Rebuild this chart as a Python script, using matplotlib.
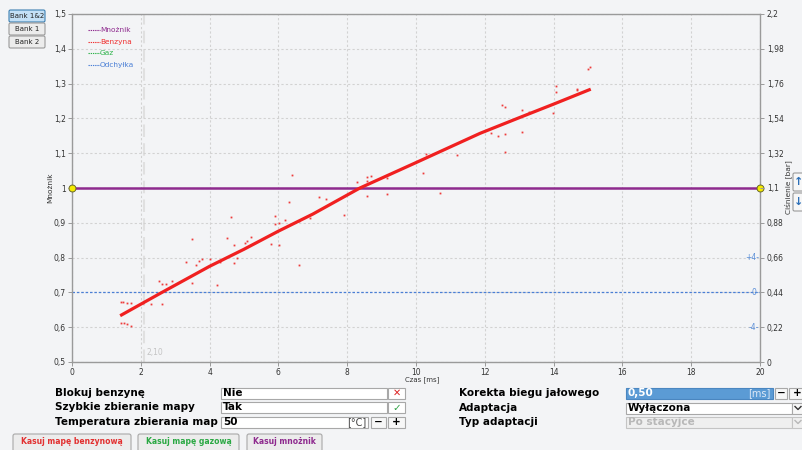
import matplotlib
matplotlib.use('Agg')
import matplotlib.pyplot as plt
from matplotlib.patches import Rectangle, FancyBboxPatch

# linia mapy benzyny (mnoznik w funkcji czasu wtrysku)
linia_x = [1.4, 2.56, 4.0, 5.0, 6.0, 7.0, 8.37, 10.0, 11.86, 13.0, 14.0, 15.08]
linia_y = [0.633, 0.697, 0.775, 0.824, 0.876, 0.925, 1.0, 1.073, 1.157, 1.202, 1.241, 1.284]

# zebrane punkty pomiarowe
punkty_x = [1.42, 1.49, 1.61, 1.71, 1.42, 1.51, 1.61, 1.71, 2.07, 2.29, 2.53, 2.63,
            2.72, 2.61, 2.92, 3.31, 3.50, 3.50, 3.60, 3.69, 3.79, 4.01, 4.21, 4.30,
            4.50, 4.61, 4.71, 4.71, 4.81, 5.02, 5.10, 5.19, 5.79, 6.01, 5.89, 6.01,
            5.91, 6.18, 6.59, 6.92, 6.40, 6.30, 6.59, 7.19, 7.38, 7.91, 8.29, 8.58,
            8.68, 8.58, 9.17, 8.58, 9.17, 10.19, 10.29, 10.70, 11.18, 12.17, 12.38,
            12.58, 12.58, 12.49, 12.59, 13.07, 13.07, 13.28, 13.99, 14.07, 14.07,
            14.67, 14.67, 14.99, 15.07]
punkty_y = [0.673, 0.673, 0.670, 0.670, 0.611, 0.611, 0.608, 0.604, 0.669, 0.666, 0.733,
            0.723, 0.723, 0.667, 0.733, 0.788, 0.854, 0.728, 0.779, 0.791, 0.795, 0.795,
            0.720, 0.787, 0.857, 0.917, 0.836, 0.784, 0.798, 0.843, 0.849, 0.858, 0.839,
            0.837, 0.897, 0.900, 0.920, 0.908, 0.906, 0.914, 1.038, 0.960, 0.779, 0.975,
            0.968, 0.923, 1.017, 1.032, 1.034, 1.021, 1.028, 0.978, 0.982, 1.042, 1.098,
            0.985, 1.094, 1.157, 1.149, 1.154, 1.104, 1.239, 1.234, 1.224, 1.162, 1.218,
            1.215, 1.292, 1.277, 1.285, 1.282, 1.342, 1.349]

mnoznik = 1.0
odchylka = 0.7
znacznik_x = 2.1
x_ticks = [0, 2, 4, 6, 8, 10, 12, 14, 16, 18, 20]
y_ticks = [0.5, 0.6, 0.7, 0.8, 0.9, 1.0, 1.1, 1.2, 1.3, 1.4, 1.5]
p_ticks = [0, 0.22, 0.44, 0.66, 0.88, 1.1, 1.32, 1.54, 1.76, 1.98, 2.2]
odchylka_opisy = ['+4', '0', '-4']
odchylka_poziomy = [0.8, 0.7, 0.6]

legenda = ['Mnożnik', 'Benzyna', 'Gaz', 'Odchyłka']
kolory = ['#8e2a8e', '#f03030', '#2db34a', '#4a7fd6']

bg = '#f3f4f6'
ciemny = '#333333'


def przecinek(v):
    return ('%g' % v).replace('.', ',')


fig = plt.figure(figsize=(8.03, 4.5), dpi=100, facecolor=bg)
ax = fig.add_axes([72 / 803, 1 - 362 / 450, 688 / 803, 348 / 450])
ax.set_facecolor(bg)
ax.set_xlim(0, 20)
ax.set_ylim(0.5, 1.5)
ax.set_xticks(x_ticks)
ax.set_xticklabels([str(t) for t in x_ticks])
ax.set_yticks(y_ticks)
ax.set_yticklabels([przecinek(t) for t in y_ticks])
ax.grid(True, ls=(0, (2, 2)), color='#d2d2d2', lw=0.8)
for s in ax.spines.values():
    s.set_color('#9a9a9a')
    s.set_linewidth(1)
ax.tick_params(labelsize=5.5, labelcolor=ciemny, color='#9a9a9a', length=3, width=0.7, pad=1.5)

ax2 = ax.twinx()
ax2.set_ylim(0, 2.2)
ax2.set_yticks(p_ticks)
ax2.set_yticklabels([przecinek(t) for t in p_ticks])
ax2.tick_params(labelsize=5.5, labelcolor=ciemny, color='#9a9a9a', length=3, width=0.7, pad=2)
for s in ax2.spines.values():
    s.set_visible(False)

# znacznik biegu jalowego
ax.axvline(znacznik_x, color='#e0e0e0', lw=1.5, ls=(0, (6, 3)), zorder=1)
ax.text(znacznik_x + 0.08, 0.515, przecinek(znacznik_x) + '0', fontsize=5.5, color='#c4c4c4',
        ha='left', va='bottom')

ax.axhline(odchylka, color=kolory[3], lw=0.9, ls=(0, (2, 1.5)), zorder=2)
for opis, poz in zip(odchylka_opisy, odchylka_poziomy):
    ax.text(19.97, poz, opis + '-', fontsize=5.5, color='#5b8fd8', ha='right', va='center')

ax.plot([0, 20], [mnoznik, mnoznik], color=kolory[0], lw=1.8, zorder=3)
ax.plot([0, 20], [mnoznik, mnoznik], ls='none', marker='o', ms=5, mfc='#f5ea00',
        mec='#6a6a2a', mew=0.7, clip_on=False, zorder=6)

ax.plot(punkty_x, punkty_y, ls='none', marker='s', ms=1.3, color='#ee3b3b', mew=0, zorder=4)
ax.plot(linia_x, linia_y, color='#f02020', lw=2.3, solid_capstyle='butt', zorder=5)

# warstwa interfejsu w pikselach
ui = fig.add_axes([0, 0, 1, 1], zorder=5)
ui.set_xlim(0, 803)
ui.set_ylim(450, 0)
ui.axis('off')
ui.patch.set_alpha(0)


def pole(x0, y0, x1, y1, fc='white', ec='#a8a8a8', lw=0.8, r=0.0):
    if r:
        p = FancyBboxPatch((x0, y0), x1 - x0, y1 - y0, boxstyle='round,pad=0,rounding_size=%g' % r,
                           fc=fc, ec=ec, lw=lw)
    else:
        p = Rectangle((x0, y0), x1 - x0, y1 - y0, fc=fc, ec=ec, lw=lw)
    ui.add_patch(p)


def napis(x, y, s, size=7.5, color='black', weight='bold', ha='left', **kw):
    ui.text(x, y, s, fontsize=size, color=color, fontweight=weight, ha=ha, va='center', **kw)


# przyciski bankow
banki = ['Bank 1&2', 'Bank 1', 'Bank 2']
for i, b in enumerate(banki):
    y0 = 10 + i * 13
    if i == 0:
        pole(9, y0, 45, y0 + 12, fc='#c4e0f6', ec='#3c7fb1', r=1.5)
    else:
        pole(9, y0, 45, y0 + 12, fc='#ececec', ec='#9a9a9a', r=1.5)
    napis(27, y0 + 6, b, size=5, color='#222222', weight='normal', ha='center')

# legenda
for i, (t, c) in enumerate(zip(legenda, kolory)):
    y = 30 + i * 11.7
    ui.plot([88, 100], [y, y], color=c, lw=0.8, ls=(0, (1.2, 0.8)))
    napis(100, y, t, size=5.3, color=c, weight='normal')

napis(50, 188, 'Mnożnik', size=5.3, color=ciemny, weight='normal', ha='center', rotation=90)
napis(788, 187, 'Ciśnienie [bar]', size=5.3, color=ciemny, weight='normal', ha='center',
      rotation=90)
napis(422, 380, 'Czas [ms]', size=5, color=ciemny, weight='normal', ha='center')

# strzalki przesuwania
pole(793, 173, 806, 191, fc='#f7f7f7', ec='#9a9a9a', r=1.5)
pole(793, 193, 806, 211, fc='#f7f7f7', ec='#9a9a9a', r=1.5)
napis(799, 182, '↑', size=8, color='#2c6fb8', ha='center')
napis(799, 202, '↓', size=8, color='#2c6fb8', ha='center')

# formularz - lewa kolumna
napis(55, 393, 'Blokuj benzynę')
napis(55, 407.5, 'Szybkie zbieranie mapy')
napis(55, 422, 'Temperatura zbierania map')

pole(221, 387.5, 387, 398.5)
napis(223, 393, 'Nie')
pole(388, 387.5, 405, 398.5)
napis(396.5, 393, '✕', size=7, color='#dd2222', ha='center')

pole(221, 402, 387, 413)
napis(223, 407.5, 'Tak')
pole(388, 402, 405, 413)
napis(396.5, 407.5, '✓', size=7.5, color='#2aa040', ha='center')

pole(221, 416.5, 368, 427.5)
napis(223, 422, '50')
napis(366, 422, '[°C]', size=7, color='#444444', weight='normal', ha='right')
pole(371, 416.5, 386, 427.5, fc='#f7f7f7')
napis(378.5, 422, '−', ha='center')
pole(388, 416.5, 405, 427.5, fc='#f7f7f7')
napis(396.5, 422, '+', ha='center')

# formularz - prawa kolumna
napis(459, 393, 'Korekta biegu jałowego')
napis(459, 408, 'Adaptacja')
napis(459, 422, 'Typ adaptacji')

pole(626, 387.5, 773, 398.5, fc='#5b9bd5', ec='#4a86c0')
napis(628, 393, '0,50', color='white')
napis(771, 393, '[ms]', size=7, color='#dde8f6', weight='normal', ha='right')
pole(775, 387.5, 787, 398.5, fc='#f7f7f7')
napis(781, 393, '−', ha='center')
pole(789, 387.5, 806, 398.5, fc='#f7f7f7')
napis(797.5, 393, '+', ha='center')

pole(626, 402.5, 792, 413.5)
napis(628, 408, 'Wyłączona')
pole(792, 402.5, 806, 413.5, fc='#f7f7f7')
ui.plot([795, 798, 801], [406.5, 409.5, 406.5], color='#333333', lw=1)

pole(626, 416.5, 792, 427.5, fc='#efefef', ec='#c4c4c4')
napis(628, 422, 'Po stacyjce', color='#b8b8b8')
pole(792, 416.5, 806, 427.5, fc='#efefef', ec='#c4c4c4')
ui.plot([795, 798, 801], [420.5, 423.5, 420.5], color='#b8b8b8', lw=1)

# przyciski kasowania
przyciski = ['Kasuj mapę benzynową', 'Kasuj mapę gazową', 'Kasuj mnożnik']
przyciski_kolory = ['#e23030', '#2aa843', '#8e2a8e']
przyciski_x = [(13, 131), (138, 239), (247, 322)]
for t, c, (x0, x1) in zip(przyciski, przyciski_kolory, przyciski_x):
    pole(x0, 434, x1, 452, fc='#ececec', ec='#a8a8a8', r=2)
    napis((x0 + x1) / 2, 442, t, size=5.5, color=c, ha='center')

fig.savefig('out.png', dpi=100, facecolor=bg)
